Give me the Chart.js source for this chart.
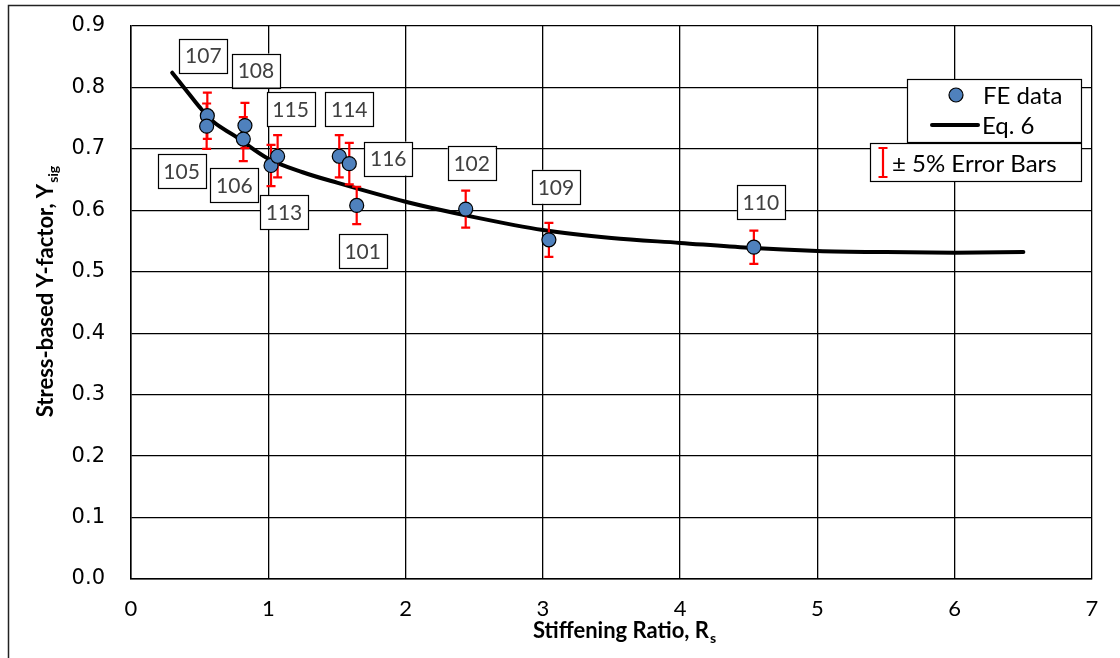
<!DOCTYPE html>
<html><head><meta charset="utf-8">
<script src="https://cdn.jsdelivr.net/npm/chart.js@4.4.1/dist/chart.umd.min.js"></script>
<style>html,body{margin:0;padding:0;background:#fff;}#wrap{width:1120px;height:658px;position:relative;}</style>
</head><body><div id="wrap"><canvas id="c" width="1120" height="658"></canvas></div>
<script>
// ---- data ----
const specimenLabels = ['107','105','108','106','113','115','114','116','101','102','109','110'];
const stiffeningRatio = [0.556,0.551,0.830,0.818,1.020,1.068,1.517,1.590,1.644,2.438,3.044,4.537];
const yFactor = [0.754,0.737,0.738,0.716,0.673,0.688,0.688,0.676,0.608,0.602,0.552,0.540];
const eq6Rs = [0.3,0.4,0.5,0.6,0.75,1.0,1.25,1.5,2.0,2.5,3.0,3.5,4.0,4.5,5.0,5.5,6.0,6.5];
const eq6Y  = [0.824,0.796,0.768,0.744,0.722,0.684,0.662,0.645,0.614,0.589,0.568,0.555,0.547,0.539,0.534,0.532,0.531,0.532];
const xTickValues = [0,1,2,3,4,5,6,7];
const yTickValues = [0,0.1,0.2,0.3,0.4,0.5,0.6,0.7,0.8,0.9];
const errorFraction = 0.05;
// label box offsets from their point, in pixels (layout only)
const labelOffsets = [[-4,-60],[-25,45],[11,-55],[-9,46],[13,47],[13,-47],[10,-47],[39,-5],[6,46],[6,-46],[7,-53],[7,-45]];

const FONT = 'Lato, "Open Sans", sans-serif';
const feData = stiffeningRatio.map((x,i)=>({x:x,y:yFactor[i]}));
const eqData = eq6Rs.map((x,i)=>({x:x,y:eq6Y[i]}));

const decorPlugin = {
  id:'decor',
  beforeDatasetDraw(chart,args){
    if(args.index!==0) return;
    const ctx=chart.ctx, xs=chart.scales.x, ys=chart.scales.y;
    ctx.save();
    ctx.strokeStyle='#FF0000'; ctx.lineWidth=2.2;
    feData.forEach(p=>{
      const px=xs.getPixelForValue(p.x);
      const top=ys.getPixelForValue(p.y*(1+errorFraction));
      const bot=ys.getPixelForValue(p.y*(1-errorFraction));
      ctx.beginPath();
      ctx.moveTo(px,top); ctx.lineTo(px,bot);
      ctx.moveTo(px-4.5,top); ctx.lineTo(px+4.5,top);
      ctx.moveTo(px-4.5,bot); ctx.lineTo(px+4.5,bot);
      ctx.stroke();
    });
    ctx.restore();
  },
  afterDatasetsDraw(chart){
    const ctx=chart.ctx, xs=chart.scales.x, ys=chart.scales.y;
    ctx.save();
    ctx.font='21px '+FONT;
    ctx.textAlign='center'; ctx.textBaseline='middle';
    feData.forEach((p,i)=>{
      const cx=xs.getPixelForValue(p.x)+labelOffsets[i][0];
      const cy=ys.getPixelForValue(p.y)+labelOffsets[i][1];
      const w=48,h=34;
      ctx.fillStyle='#fff';
      ctx.fillRect(cx-w/2,cy-h/2,w,h);
      ctx.strokeStyle='#000'; ctx.lineWidth=1.2;
      ctx.strokeRect(Math.round(cx-w/2)+0.5,Math.round(cy-h/2)+0.5,w,h);
      ctx.fillStyle='#404040';
      ctx.fillText(specimenLabels[i],cx,cy+1);
    });
    // legend
    const ca=chart.chartArea;
    const r=ca.right-11;
    ctx.fillStyle='#fff'; ctx.strokeStyle='#000'; ctx.lineWidth=1.2;
    ctx.fillRect(907,79,r-907,63); ctx.strokeRect(907.5,79.5,r-907,63);
    ctx.fillRect(870,143,r-870,38); ctx.strokeRect(870.5,143.5,r-870,38);
    ctx.beginPath(); ctx.arc(956,95,7,0,Math.PI*2);
    ctx.fillStyle='#4F81BD'; ctx.fill(); ctx.lineWidth=1.2; ctx.strokeStyle='#000'; ctx.stroke();
    ctx.beginPath(); ctx.moveTo(932,125); ctx.lineTo(978,125); ctx.lineWidth=4; ctx.lineCap='round'; ctx.stroke();
    ctx.lineCap='butt';
    ctx.strokeStyle='#FF0000'; ctx.lineWidth=2.2;
    ctx.beginPath(); ctx.moveTo(883,148); ctx.lineTo(883,177);
    ctx.moveTo(878.5,148); ctx.lineTo(887.5,148); ctx.moveTo(878.5,177); ctx.lineTo(887.5,177); ctx.stroke();
    ctx.fillStyle='#000'; ctx.font='24px '+FONT; ctx.textAlign='left'; ctx.textBaseline='middle';
    ctx.fillText('FE data',983,96);
    ctx.fillText('Eq. 6',982,126);
    ctx.fillText('\u00B1 5% Error Bars',892,164);
    ctx.restore();
  },
  afterDraw(chart){
    const ctx=chart.ctx;
    ctx.save();
    // outer frame
    ctx.strokeStyle='#222'; ctx.lineWidth=1.5;
    ctx.strokeRect(8.5,5.5,1300,800);
    // x title
    ctx.fillStyle='#000';
    ctx.textBaseline='alphabetic';
    const mainF='bold 22px '+FONT, subF='bold 14px '+FONT;
    ctx.font=mainF; const t1='Stiffening Ratio, R'; const w1=ctx.measureText(t1).width;
    ctx.font=subF; const w1s=ctx.measureText('s').width;
    const cxT=624; let x0=cxT-(w1+w1s)/2;
    ctx.font=mainF; ctx.textAlign='left'; ctx.fillText(t1,x0,638);
    ctx.font=subF; ctx.fillText('s',x0+w1+1,643);
    // y title
    ctx.save();
    ctx.translate(53,292); ctx.rotate(-Math.PI/2);
    ctx.font=mainF; const t2='Stress-based Y-factor, Y'; const w2=ctx.measureText(t2).width;
    ctx.font=subF; const w2s=ctx.measureText('sig').width;
    let y0=-(w2+w2s)/2;
    ctx.font=mainF; ctx.fillText(t2,y0,0);
    ctx.font=subF; ctx.fillText('sig',y0+w2+1,5);
    ctx.restore();
    ctx.restore();
  }
};

new Chart(document.getElementById('c'),{
  type:'scatter',
  data:{datasets:[
    {label:'FE data',data:feData,order:0,pointRadius:7,pointHoverRadius:7,
     pointBackgroundColor:'#4F81BD',pointBorderColor:'#000',pointBorderWidth:1.2,showLine:false},
    {label:'Eq. 6',data:eqData,order:1,showLine:true,pointRadius:0,borderColor:'#000',borderWidth:4,
     cubicInterpolationMode:'monotone',borderCapStyle:'round',fill:false}
  ]},
  options:{
    responsive:false,animation:false,devicePixelRatio:1,
    layout:{padding:{top:26,right:28,left:0,bottom:0},autoPadding:false},
    plugins:{legend:{display:false},tooltip:{enabled:false},title:{display:false}},
    scales:{
      x:{type:'linear',min:0,max:7,
        afterFit(s){s.height=79;s.paddingLeft=0;s.paddingRight=0;},
        afterBuildTicks(s){s.ticks=xTickValues.map(v=>({value:v}));},
        grid:{color:'#000',lineWidth:1.3,drawTicks:false},
        border:{color:'#000',width:1.5},
        ticks:{font:{family:FONT,size:22},color:'#000',padding:17,callback:v=>String(v)}},
      y:{type:'linear',min:0,max:0.9,
        afterFit(s){s.width=131;s.paddingTop=0;s.paddingBottom=0;},
        afterBuildTicks(s){s.ticks=yTickValues.map(v=>({value:v}));},
        grid:{color:'#000',lineWidth:1.3,drawTicks:false},
        border:{color:'#000',width:1.5},
        ticks:{font:{family:'"DejaVu Sans", sans-serif',size:21},color:'#000',padding:26,callback:v=>Number(v).toFixed(1)}}
    }
  },
  plugins:[decorPlugin]
});
</script></body></html>
